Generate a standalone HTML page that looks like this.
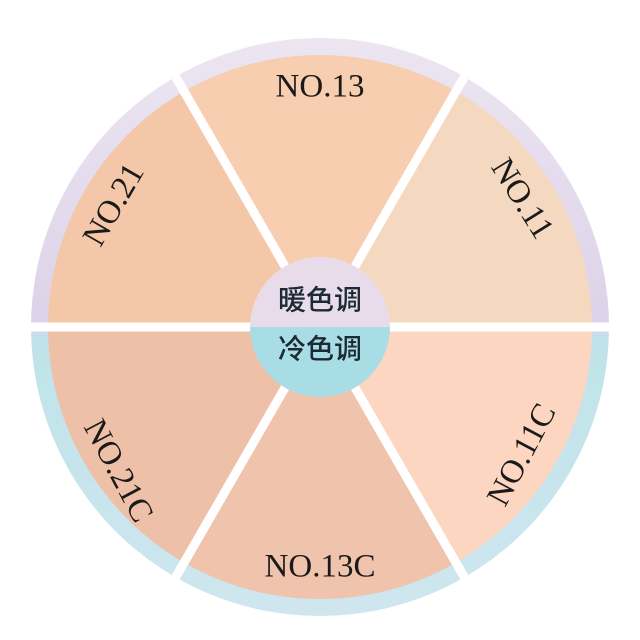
<!DOCTYPE html>
<html><head><meta charset="utf-8"><style>
html,body{margin:0;padding:0;background:#fff;}
svg{display:block;}
.t{font-family:"Liberation Serif","DejaVu Serif",serif;font-size:33px;fill:#1a1a1a;text-anchor:middle;dominant-baseline:middle;}
.c{font-family:"Liberation Sans","Noto Sans CJK SC",sans-serif;font-size:28px;font-weight:500;fill:#1c2a33;text-anchor:middle;dominant-baseline:middle;}
</style></head><body>
<svg width="640" height="640" viewBox="0 0 640 640" xmlns="http://www.w3.org/2000/svg">
<defs>
<linearGradient id="ring" x1="0" y1="0" x2="0" y2="1">
<stop offset="0" stop-color="#ece6f1"/>
<stop offset="0.5" stop-color="#ddd2e9"/>
<stop offset="0.52" stop-color="#bfe3ea"/>
<stop offset="1" stop-color="#cfe6ef"/>
</linearGradient>
</defs>
<circle cx="320" cy="327" r="289" fill="url(#ring)"/>
<g>
<path d="M320 327 L456 91.4 A272 272 0 0 0 184 91.4 Z" fill="#f8ceb0"/>
<path d="M320 327 L592 327 A272 272 0 0 0 456 91.4 Z" fill="#f5d8c0"/>
<path d="M320 327 L184 91.4 A272 272 0 0 0 48 327 Z" fill="#f4c7a8"/>
<path d="M320 327 L48 327 A272 272 0 0 0 184 562.6 Z" fill="#eec0a8"/>
<path d="M320 327 L184 562.6 A272 272 0 0 0 456 562.6 Z" fill="#f0c3ad"/>
<path d="M320 327 L456 562.6 A272 272 0 0 0 592 327 Z" fill="#fcd6c0"/>
</g>
<g stroke="#fff" stroke-width="9">
<line x1="20" y1="327" x2="620" y2="327"/>
<line x1="170" y1="67" x2="470" y2="587"/>
<line x1="470" y1="67" x2="170" y2="587"/>
</g>
<path d="M250 327 A70 70 0 0 1 390 327 Z" fill="#e8dcea"/>
<path d="M250 327 A70 70 0 0 0 390 327 Z" fill="#a9dde6"/>
<text class="c" x="320" y="302">暖色调</text>
<text class="c" x="320" y="351">冷色调</text>
<text class="t" x="320" y="89">NO.13</text>
<text class="t" x="320" y="569">NO.13C</text>
<text class="t" transform="translate(520,200) rotate(58)">NO.11</text>
<text class="t" transform="translate(116,206) rotate(-60)">NO.21</text>
<text class="t" transform="translate(116,472) rotate(62)">NO.21C</text>
<text class="t" transform="translate(524,456) rotate(-62)">NO.11C</text>
</svg>
</body></html>
